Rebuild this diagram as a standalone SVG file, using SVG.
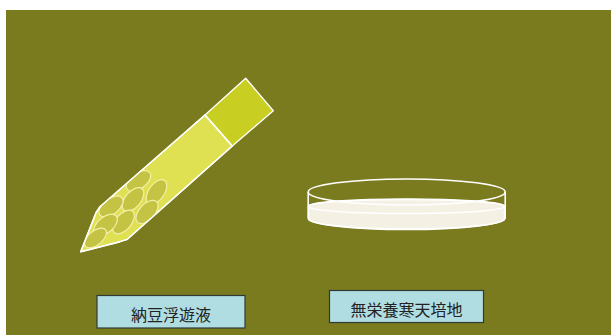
<svg xmlns="http://www.w3.org/2000/svg" width="611" height="335" viewBox="0 0 611 335">
  <defs>
    <style>
      .tube { stroke: #ffffff; stroke-width: 1.4; stroke-linejoin: round; }
      .cell { fill: #c4c344; stroke: #f3f0a8; stroke-width: 1.2; }
      .glass { fill: none; stroke: #ffffff; stroke-width: 1.6; }
      .label { fill: #b0dde2; stroke: #2f3b3b; stroke-width: 1.2; }
      .label-text { font-family: "Noto Sans CJK JP", "Noto Sans CJK SC", sans-serif; font-size: 16px; fill: #222222; text-anchor: middle; }
    </style>
    <clipPath id="tubeClip">
      <polygon points="205,115 232.3,146 127.3,239.3 120,241.7 80.7,251.7 96,212.7 100,206.7"/>
    </clipPath>
  </defs>

  <!-- backdrop -->
  <rect x="6" y="10" width="605" height="325" fill="#7a7a1e"/>

  <!-- pipette holding the suspension -->
  <g id="pipette">
    <polygon class="tube" fill="#dfe052" points="205,115 232.3,146 127.3,239.3 120,241.7 80.7,251.7 96,212.7 100,206.7"/>
    <polygon class="tube" fill="#c9cf22" points="245.7,78.3 273.3,110.7 232.3,146 205,115"/>
    <g clip-path="url(#tubeClip)">
      <ellipse class="cell" cx="138.5" cy="181" rx="14" ry="7.8" transform="rotate(-36 138.5 181)"/>
      <ellipse class="cell" cx="156.5" cy="192" rx="14" ry="7.8" transform="rotate(-55 156.5 192)"/>
      <ellipse class="cell" cx="133" cy="199.5" rx="14" ry="7.8" transform="rotate(-50 133 199.5)"/>
      <ellipse class="cell" cx="111" cy="206.5" rx="14" ry="7.8" transform="rotate(-38 111 206.5)"/>
      <ellipse class="cell" cx="147" cy="212" rx="14" ry="7.8" transform="rotate(-48 147 212)"/>
      <ellipse class="cell" cx="123.5" cy="222" rx="14" ry="7.8" transform="rotate(-50 123.5 222)"/>
      <ellipse class="cell" cx="105.5" cy="225" rx="14" ry="7.8" transform="rotate(-40 105.5 225)"/>
      <ellipse class="cell" cx="95.5" cy="238" rx="13" ry="7" transform="rotate(-40 95.5 238)"/>
    </g>
    <polygon class="tube" fill="none" points="205,115 232.3,146 127.3,239.3 120,241.7 80.7,251.7 96,212.7 100,206.7"/>
  </g>

  <!-- petri dish with agar -->
  <g id="petri-dish">
    <path d="M308.5,206 L308.5,219 A98,10 0 0 0 504.5,219 L504.5,206 A98,7 0 0 0 308.5,206 Z" fill="#f5f0e4" stroke="#ffffff" stroke-width="1.4"/>
    <ellipse class="glass" cx="406.5" cy="206.5" rx="98" ry="7"/>
    <ellipse class="glass" cx="406.7" cy="192" rx="98.5" ry="13"/>
    <path class="glass" d="M308.2,192 L308.2,218 A98.5,11.5 0 0 0 505.2,218 L505.2,192"/>
  </g>

  <!-- captions -->
  <g id="label-suspension">
    <rect class="label" x="97" y="295.5" width="148" height="32.5"/>
    <text class="label-text" x="171" y="321">納豆浮遊液</text>
  </g>
  <g id="label-agar">
    <rect class="label" x="329.5" y="290.5" width="154" height="32"/>
    <text class="label-text" x="406.5" y="316">無栄養寒天培地</text>
  </g>
</svg>
